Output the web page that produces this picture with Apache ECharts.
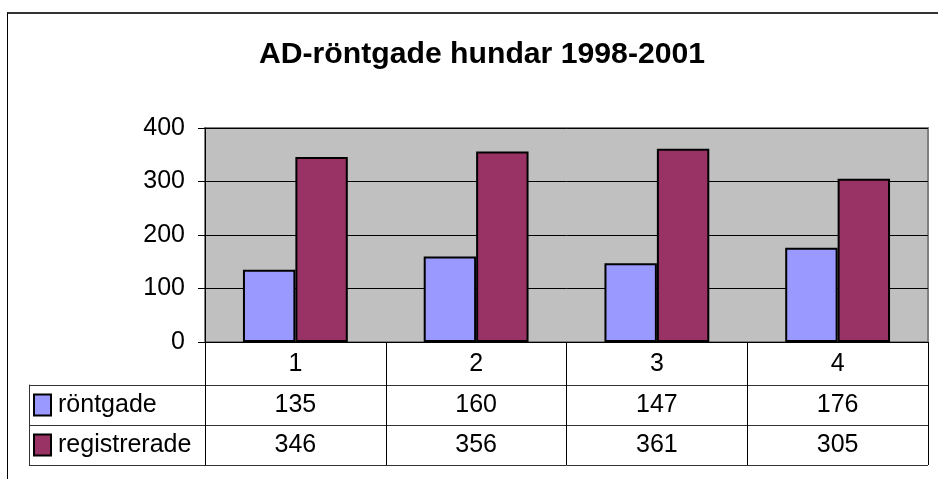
<!DOCTYPE html>
<html>
<head>
<meta charset="utf-8">
<script src="https://cdn.jsdelivr.net/npm/echarts@6/dist/echarts.min.js"></script>
<style>
  html, body { margin: 0; padding: 0; background: #fff; overflow: hidden; }
  #frame { position: absolute; left: 7px; top: 12px; width: 2000px; height: 2000px;
           border-top: 2px solid #333; border-left: 1px solid #000; }
  #chart { position: absolute; left: 0; top: 0; width: 938px; height: 479px; }
</style>
</head>
<body>
<div id="frame"></div>
<div id="chart"></div>
<script>
// data
const categories = ['1', '2', '3', '4'];
const seriesNames = ['röntgade', 'registrerade'];
const rontgade = [135, 160, 147, 176];
const registrerade = [346, 356, 361, 305];
const colors = ['#9999FF', '#993366'];

const FONT = 'Liberation Sans, Arial, sans-serif';

// table cells: [categoryIndex, rowIndex, value]
const tableCells = [];
[rontgade, registrerade].forEach((vals, r) => {
  vals.forEach((v, c) => tableCells.push([c, r, v]));
});

const chart = echarts.init(document.getElementById('chart'), null, { renderer: 'canvas' });

chart.setOption({
  animation: false,
  textStyle: { fontFamily: FONT },
  title: {
    text: 'AD-röntgade hundar 1998-2001',
    left: 477, top: 35, textAlign: 'center',
    textStyle: { fontFamily: FONT, fontSize: 30.2, fontWeight: 'bold', color: '#000' }
  },
  grid: [
    { left: 205, top: 128, width: 723, height: 214, show: true,
      backgroundColor: '#C0C0C0', borderColor: '#808080', borderWidth: 2 },
    { left: 205, top: 385, width: 723, height: 80 }
  ],
  xAxis: [
    { type: 'category', gridIndex: 0, data: categories,
      axisLine: { lineStyle: { color: '#000', width: 1 } },
      axisTick: { show: true, length: 123, interval: 0, lineStyle: { color: '#000', width: 1 } },
      axisLabel: { color: '#000', fontSize: 25, margin: 10, lineHeight: 25, fontFamily: FONT },
      splitLine: { show: false } },
    { type: 'category', gridIndex: 1, data: categories, show: false }
  ],
  yAxis: [
    { type: 'value', gridIndex: 0, min: 0, max: 400, interval: 100,
      axisLine: { show: true, lineStyle: { color: '#000', width: 1 } },
      axisTick: { show: true, length: 7, lineStyle: { color: '#000' } },
      axisLabel: { color: '#000', fontSize: 25, margin: 20, fontFamily: FONT },
      splitLine: { show: true, lineStyle: { color: '#000', width: 1 } } },
    { type: 'category', gridIndex: 1, data: seriesNames, inverse: true,
      axisLine: { show: true, lineStyle: { color: '#000', width: 1 } },
      axisTick: { show: true, length: 176, lineStyle: { color: '#333', width: 1 } },
      splitLine: { show: true, lineStyle: { color: '#333', width: 1 } },
      axisLabel: {
        align: 'left', margin: 170, fontSize: 25, color: '#000', fontFamily: FONT,
        formatter: (v, i) => '{b' + i + '|}{t|' + v + '}',
        rich: {
          b0: { width: 15, height: 15, backgroundColor: colors[0], borderColor: '#000', borderWidth: 2,
                padding: [4, 0, 0, 0] },
          b1: { width: 15, height: 15, backgroundColor: colors[1], borderColor: '#000', borderWidth: 2,
                padding: [4, 0, 0, 0] },
          t: { fontSize: 25, color: '#000', fontFamily: FONT, padding: [0, 0, 0, 8] }
        }
      } },
    { type: 'category', gridIndex: 1, data: seriesNames, position: 'left', offset: 176,
      axisLine: { show: true, lineStyle: { color: '#333', width: 1 } },
      axisTick: { show: false }, axisLabel: { show: false }, splitLine: { show: false } }
  ],
  series: [
    { name: seriesNames[0], type: 'bar', xAxisIndex: 0, yAxisIndex: 0, data: rontgade,
      barGap: '0%', barCategoryGap: '42%',
      itemStyle: { color: colors[0], borderColor: '#000', borderWidth: 2 } },
    { name: seriesNames[1], type: 'bar', xAxisIndex: 0, yAxisIndex: 0, data: registrerade,
      barGap: '0%', barCategoryGap: '42%',
      itemStyle: { color: colors[1], borderColor: '#000', borderWidth: 2 } },
    { type: 'custom', xAxisIndex: 1, yAxisIndex: 1, data: tableCells,
      renderItem: (params, api) => {
        const p = api.coord([api.value(0), api.value(1)]);
        return {
          type: 'text',
          style: { text: String(api.value(2)), x: p[0], y: p[1], align: 'center',
                   verticalAlign: 'middle', fontSize: 25, fontFamily: FONT, fill: '#000' }
        };
      } }
  ]
});
</script>
</body>
</html>
